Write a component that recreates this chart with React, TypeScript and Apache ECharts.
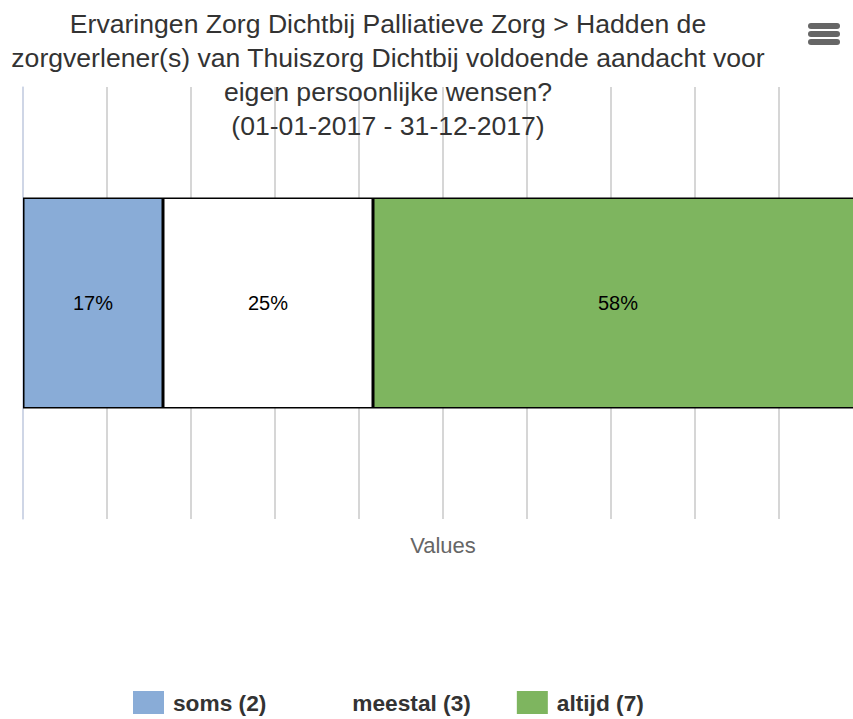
import React, { useEffect, useRef } from "react";
import * as echarts from "echarts";

const categories = ["Hadden de zorgverlener(s) voldoende aandacht?"];
const seriesNames = ["soms (2)", "meestal (3)", "altijd (7)"];
const seriesCounts = [2, 3, 7];
const seriesColors = ["#89acd7", "#ffffff", "#7eb55f"];
const titleText =
  "Ervaringen Zorg Dichtbij Palliatieve Zorg > Hadden de\nzorgverlener(s) van Thuiszorg Dichtbij voldoende aandacht voor\neigen persoonlijke wensen?\n(01-01-2017 - 31-12-2017)";
const axisTitle = "Values";

const FONT = "'Liberation Sans', Arial, sans-serif";

export default function App() {
  const ref = useRef<HTMLDivElement>(null);
  useEffect(() => {
    if (!ref.current) return;
    const chart = echarts.init(ref.current, undefined, { renderer: "svg" });
    const total = seriesCounts.reduce((a, b) => a + b, 0);
    const series = seriesNames.map((name, i) => ({
      name,
      type: "bar",
      stack: "total",
      barWidth: 211,
      data: [(seriesCounts[i] / total) * 100],
      itemStyle: { color: seriesColors[i], borderColor: "#000", borderWidth: 1.5 },
      label: {
        show: true,
        position: "inside",
        color: "#000",
        fontFamily: FONT,
        fontSize: 20,
        formatter: (p: any) => Math.round(p.value) + "%",
      },
      z: 3,
    }));
    chart.setOption({
      animation: false,
      backgroundColor: "#fff",
      title: {
        text: titleText,
        left: 383,
        top: 2,
        textAlign: "center",
        textStyle: {
          fontFamily: FONT,
          fontSize: 26.6,
          fontWeight: "normal",
          color: "#333",
          lineHeight: 34,
        },
      },
      grid: { left: 23, top: 87, width: 840, height: 432, outerBoundsMode: "none" },
      xAxis: {
        type: "value",
        min: 0,
        max: 100,
        interval: 10,
        name: axisTitle,
        nameLocation: "middle",
        nameGap: 15,
        nameTextStyle: { fontFamily: FONT, fontSize: 22, color: "#666" },
        axisLabel: { show: false },
        axisTick: { show: false },
        axisLine: { show: false },
        splitLine: { show: true, lineStyle: { color: "#c8c8c8", width: 1.5 } },
      },
      yAxis: {
        type: "category",
        data: categories,
        axisLabel: { show: false },
        axisTick: { show: false },
        axisLine: { show: true, lineStyle: { color: "#ccd6eb", width: 1.5 } },
        splitLine: { show: false },
      },
      legend: {
        left: 133,
        top: 691,
        padding: 0,
        itemWidth: 31,
        itemHeight: 23,
        itemGap: 46,
        icon: "rect",
        itemStyle: { borderWidth: 0 },
        textStyle: {
          fontFamily: FONT,
          fontSize: 22.7,
          fontWeight: "bold",
          color: "#333",
          padding: [0, 0, 0, 4],
        },
        data: seriesNames,
      },
      graphic: [
        { type: "rect", shape: { x: 808, y: 23, width: 32, height: 6, r: 3 }, style: { fill: "#666" } },
        { type: "rect", shape: { x: 808, y: 31, width: 32, height: 6, r: 3 }, style: { fill: "#666" } },
        { type: "rect", shape: { x: 808, y: 39, width: 32, height: 6, r: 3 }, style: { fill: "#666" } },
      ],
      series,
    });
    return () => chart.dispose();
  }, []);
  return (
    <div
      ref={ref}
      style={{ position: "absolute", left: 0, top: 0, width: 853, height: 719 }}
    />
  );
}
